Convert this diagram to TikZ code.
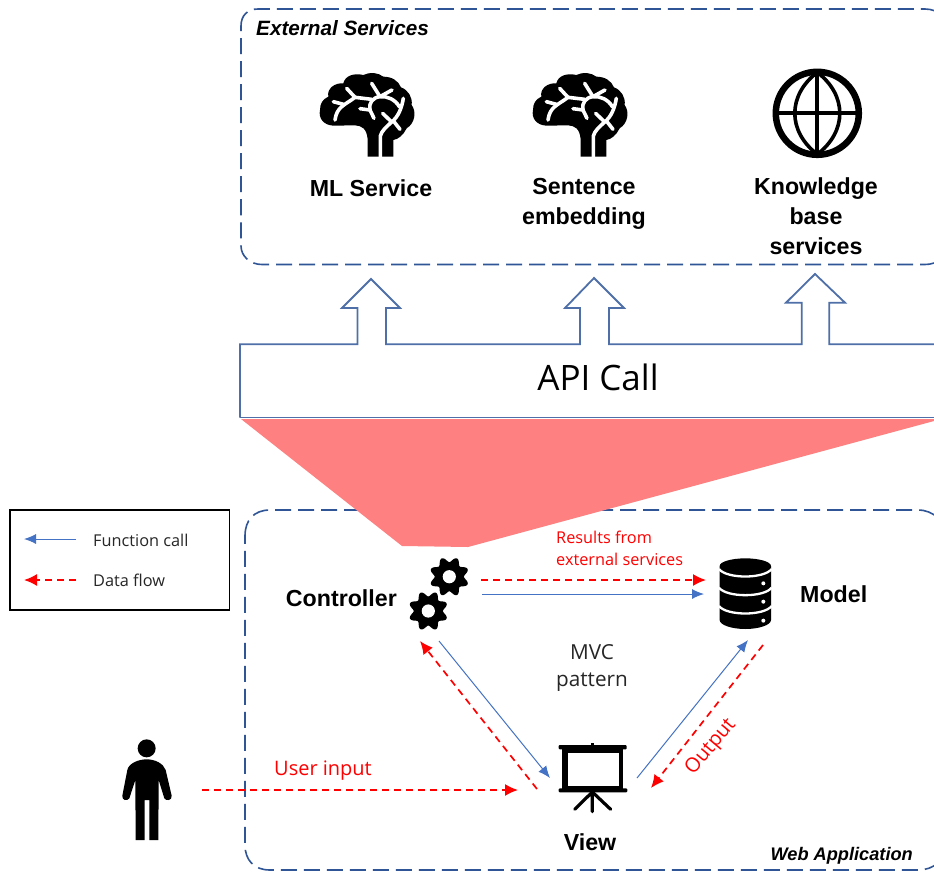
\documentclass[tikz,border=0pt]{standalone}
\usepackage{fontspec}
\setmainfont{Liberation Sans}
\newfontfamily\uifont{Open Sans}
\usetikzlibrary{arrows.meta}
\definecolor{frameblue}{HTML}{2F5597}
\definecolor{lineblue}{HTML}{4472C4}
\definecolor{apiblue}{HTML}{4F6FA8}
\definecolor{pinkred}{HTML}{FF8080}
\definecolor{softblack}{HTML}{262626}
\tikzset{
  framebox/.style={draw=frameblue,line width=1.6pt,dash pattern=on 16pt off 7pt},
  title/.style={font=\bfseries\fontsize{23.2}{30}\selectfont,align=center,inner sep=0pt,text=black},
  exttext/.style={font=\bfseries\itshape\fontsize{20.7}{24}\selectfont,inner sep=0pt},
  webtext/.style={font=\bfseries\itshape\fontsize{18.2}{22}\selectfont,inner sep=0pt},
  redsmall/.style={font=\uifont\fontsize{16.3}{22}\selectfont,text=red,inner sep=0pt,align=left},
  redbig/.style={font=\uifont\fontsize{20}{24}\selectfont,text=red,inner sep=0pt,align=center},
  legendtext/.style={font=\uifont\fontsize{16.3}{20}\selectfont,text=softblack,inner sep=0pt},
  mvctext/.style={font=\uifont\fontsize{20.7}{27}\selectfont,text=softblack,inner sep=0pt,align=center},
  callflow/.style={draw=lineblue,line width=1pt,-{Latex[length=12pt,width=10pt]}},
  dataflow/.style={draw=red,line width=1.7pt,dash pattern=on 7pt off 5pt,-{Latex[length=13pt,width=12pt]}},
}
\newcommand\brainicon[2]{%
\begin{scope}[shift={(#1,#2)},x=.3333pt,y=-.3333pt]
\fill[black] (203,290) -- (203,238) .. controls (200,205) and (185,197) .. (165,196)
 -- (100,197) .. controls (70,195) and (55,175) .. (60,150) .. controls (60,130) and (68,118) .. (85,110)
 .. controls (80,85) and (105,68) .. (130,70) .. controls (135,48) and (160,38) .. (190,45)
 .. controls (210,35) and (235,38) .. (250,50) .. controls (275,50) and (295,62) .. (303,82)
 .. controls (325,90) and (338,112) .. (335,135) .. controls (350,155) and (345,190) .. (320,205)
 .. controls (310,225) and (295,238) .. (280,240) -- (280,290) -- cycle;
\begin{scope}[draw=white,line width=3.6pt,line cap=round,line join=round]
\draw (241,292) -- (241,228) .. controls (245,212) and (260,200) .. (275,186) -- (248,160);
\draw (275,186) .. controls (295,170) and (305,145) .. (310,115);
\draw (282,185) -- (300,208);
\draw (298,140) .. controls (285,118) and (262,108) .. (240,110) .. controls (218,112) and (205,130) .. (210,150) -- (222,175);
\draw (210,150) -- (180,146);
\draw (240,110) -- (276,90);
\draw (240,110) -- (215,70);
\draw (215,118) -- (165,112) -- (140,85);
\draw (165,112) .. controls (135,135) and (110,140) .. (105,180);
\draw (130,133) -- (100,125);
\end{scope}
\end{scope}}
\newcommand\gearicon[2]{%
\begin{scope}[shift={(#1,#2)}]
\fill[black] plot[domain=0:360,samples=145,smooth] ({(17.2+2.6*cos(8*\x))*cos(\x+22.5)},{(17.2+2.6*cos(8*\x))*sin(\x+22.5)}) -- cycle;
\fill[white] (0,0) circle (6.6);
\end{scope}}
\begin{document}
\begin{tikzpicture}[x=1pt,y=-1pt]
\useasboundingbox (0,0) rectangle (934,871);
\fill[white] (0,0) rectangle (934,871);
\begin{scope}
\clip (0,0) rectangle (934,871);
% dashed containers
\draw[framebox] (241,26) .. controls (241,15) and (248,9) .. (258,9) -- (925,9) .. controls (938,9) and (948,18) .. (948,30) -- (948,244) .. controls (948,256) and (938,264.5) .. (925,264.5) -- (262,264.5) .. controls (250,264.5) and (241,256) .. (241,246) -- cycle;
\draw[framebox] (245,536) .. controls (245,520) and (254,510) .. (270,510) -- (918,510) .. controls (934,510) and (945,522) .. (945,536) -- (945,845) .. controls (945,860) and (934,870) .. (918,870) -- (270,870) .. controls (254,870) and (245,860) .. (245,845) -- cycle;
% pink funnel
\fill[pinkred] (241,419) -- (934,419) -- (934,421) -- (468,547) -- (402,546) -- cycle;
% API block
\draw[draw=apiblue,line width=1.8pt,line join=miter] (240,417.5) -- (240,344.3) -- (357.5,344.3) -- (357.5,308) -- (342,308) -- (371,279) -- (400,308) -- (386,308) -- (386,344.3)
 -- (580,344.3) -- (580,308) -- (565,308) -- (594,278) -- (624,308) -- (609,308) -- (609,344.3)
 -- (801.7,344.3) -- (801.7,302.7) -- (786,302.7) -- (815,274) -- (845,302.7) -- (829.3,302.7) -- (829.3,344.3) -- (936,344.3);
\draw[draw=apiblue,line width=1.8pt] (240,417.5) -- (936,417.5);
\end{scope}
\node[exttext,anchor=west] (exttitle) at (256,28) {External Services};
\node[webtext,anchor=east] (webtitle) at (913,856) {Web Application};
\node[inner sep=0pt,font=\uifont\fontsize{35}{40}\selectfont] (apitext) at (598,377) {API Call};

% brains and titles
\brainicon{300}{60}
\brainicon{513}{60}
\node[title] (ml) at (371,188) {ML Service};
\node[title] (se) at (584,204) {Sentence\\embedding};
\node[title] (kb) at (816,216) {Knowledge\\base\\services};

% globe
\begin{scope}[shift={(817.3,113.3)}]
\draw[black,line width=6.5pt] (0,0) circle (41.5);
\draw[black,line width=4pt] (0,-41) -- (0,41) (-41,0) -- (41,0);
\draw[black,line width=3.6pt] (0,-41) .. controls (-30,-18) and (-30,18) .. (0,41) .. controls (30,18) and (30,-18) .. (0,-41);
\end{scope}

% legend
\node[draw=black,line width=1.6pt,minimum width=219.5pt,minimum height=100pt,inner sep=0pt] (legend) at (119.8,560) {};
\coordinate (lc1) at (76,539); \coordinate (lc2) at (24,539);
\coordinate (ld1) at (76,580); \coordinate (ld2) at (24,580);
\draw[callflow] (lc1) -- (lc2);
\draw[dataflow] (ld1) -- (ld2);
\node[legendtext,anchor=west] (lt1) at (93,540) {Function call};
\node[legendtext,anchor=west] (lt2) at (93,580) {Data flow};

% gears
\gearicon{449.3}{576.7}
\gearicon{428.3}{611}
\node[title,anchor=east] (controller) at (397,598) {Controller};

% database
\begin{scope}[shift={(700,545)},x=.3333pt,y=-.3333pt]
\fill[black] (59,63) -- (59,225) .. controls (59,240) and (95,252) .. (136,252) .. controls (177,252) and (213,240) .. (213,225) -- (213,63) .. controls (213,50) and (177,40) .. (136,40) .. controls (95,40) and (59,50) .. (59,63) -- cycle;
\draw[white,line width=2.3pt] (57,72) .. controls (80,102) and (192,102) .. (215,72);
\draw[white,line width=2.3pt] (57,128) .. controls (80,158) and (192,158) .. (215,128);
\draw[white,line width=2.3pt] (57,183) .. controls (80,213) and (192,213) .. (215,183);
\fill[white] (190,115) circle (6) (190,170) circle (6) (190,227) circle (6);
\end{scope}
\node[title,anchor=west] (model) at (800,594) {Model};

% screen
\begin{scope}[shift={(540,730)},x=.3333pt,y=-.3333pt]
\fill[black] (152,38) rectangle (162,48);
\fill[black,rounded corners=1pt] (56,45) rectangle (260,58);
\fill[black,rounded corners=1pt] (56,175) rectangle (262,187);
\fill[black] (66,55) rectangle (250,178);
\fill[white] (84,69) rectangle (236,168);
\draw[black,line width=3.2pt,line cap=round] (157,186) -- (157,245) (157,186) -- (104,238) (157,186) -- (212,238);
\end{scope}
\node[title] (view) at (590,842) {View};

% person
\begin{scope}[shift={(110,730)},x=.3333pt,y=-.3333pt]
\fill[black] (110,55) circle (27);
\fill[black] (77,330) -- (76,150) -- (58,205) .. controls (52,214) and (35,212) .. (37,197) -- (52,120) .. controls (56,100) and (85,88) .. (110,88) .. controls (135,88) and (160,100) .. (167,120) -- (185,197) .. controls (187,212) and (168,214) .. (163,205) -- (146,150) -- (145,330) -- (118,330) -- (118,210) -- (104,210) -- (104,330) -- cycle;
\end{scope}

% centre labels
\node[mvctext] (mvc) at (592,668) {MVC\\pattern};
\node[redsmall,anchor=west] (res) at (556,548.5) {Results from\\external services};
\node[redbig,anchor=west] (uin) at (274,771) {User input};
\node[redbig,rotate=50] (out) at (711,747) {Output};

% connector end points
\coordinate (cm1) at (481,580); \coordinate (cm2) at (706,580);
\coordinate (cm3) at (482,594); \coordinate (cm4) at (704,594);
\coordinate (vc1) at (537,789); \coordinate (vc2) at (420,641);
\coordinate (cv1) at (439,641); \coordinate (cv2) at (550,778);
\coordinate (vm1) at (637,778); \coordinate (vm2) at (748,640);
\coordinate (mv1) at (763,645); \coordinate (mv2) at (651,788);
\coordinate (pv1) at (202,790); \coordinate (pv2) at (518,790);
\draw[dataflow] (cm1) -- (cm2);
\draw[callflow] (cm3) -- (cm4);
\draw[dataflow] (vc1) -- (vc2);
\draw[callflow] (cv1) -- (cv2);
\draw[callflow] (vm1) -- (vm2);
\draw[dataflow] (mv1) -- (mv2);
\draw[dataflow] (pv1) -- (pv2);
\end{tikzpicture}
\end{document}
